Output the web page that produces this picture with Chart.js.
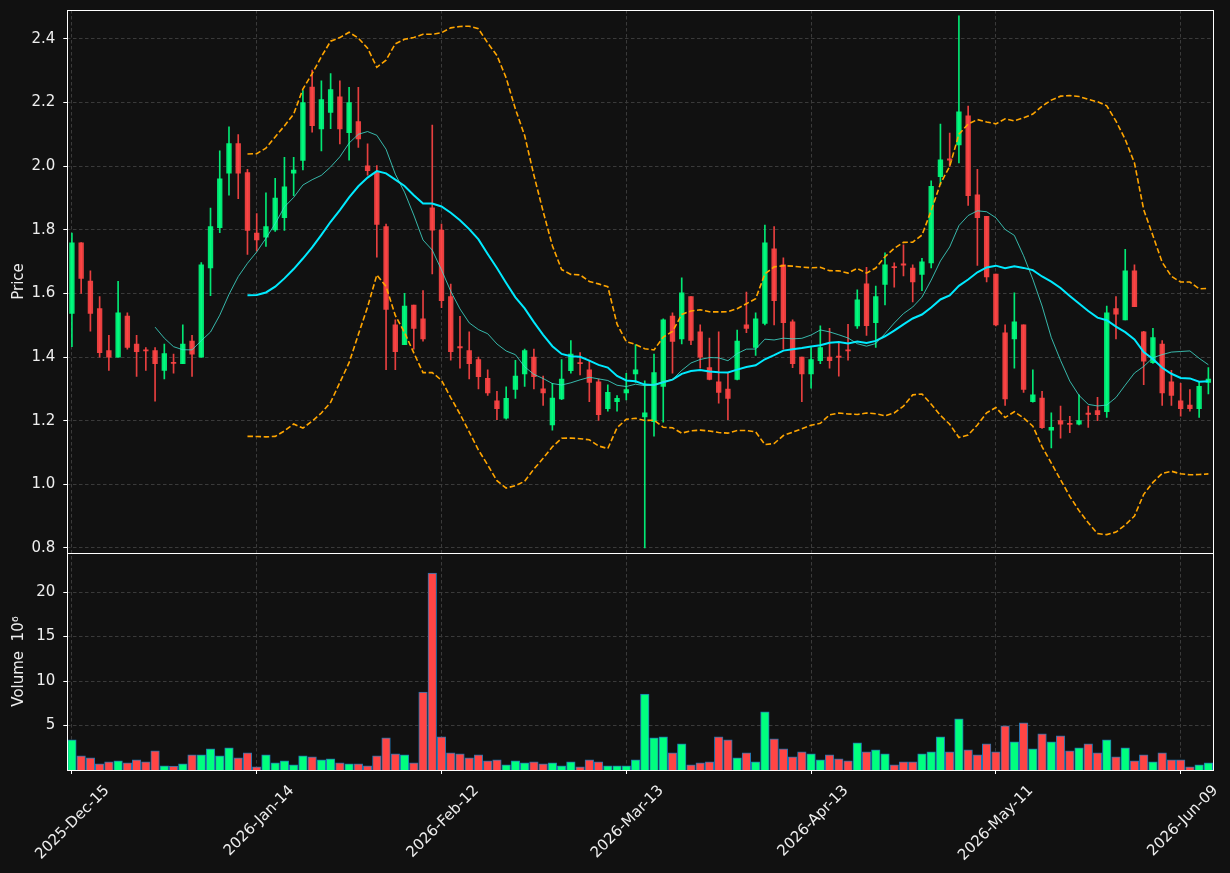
<!DOCTYPE html>
<html lang="en">
<head>
    <meta charset="UTF-8">
    <title>Candles with volume</title>
    <script src="https://cdn.jsdelivr.net/npm/chart.js"></script>
    <style>
        html, body { margin: 0; padding: 0; background: #111111; }
        canvas { display: block; }
    </style>
</head>
<body>
    <canvas id="priceChart" width="1230" height="873"></canvas>

    <script>
        // trading days (categories)
        const dates = [
            '2025-Dec-15','2025-Dec-16','2025-Dec-17','2025-Dec-18','2025-Dec-19','2025-Dec-22','2025-Dec-23','2025-Dec-24','2025-Dec-26','2025-Dec-29','2025-Dec-30','2025-Dec-31',
            '2026-Jan-02','2026-Jan-05','2026-Jan-06','2026-Jan-07','2026-Jan-08','2026-Jan-09','2026-Jan-12','2026-Jan-13','2026-Jan-14','2026-Jan-15','2026-Jan-16','2026-Jan-20','2026-Jan-21','2026-Jan-22','2026-Jan-23','2026-Jan-26','2026-Jan-27','2026-Jan-28','2026-Jan-29','2026-Jan-30',
            '2026-Feb-02','2026-Feb-03','2026-Feb-04','2026-Feb-05','2026-Feb-06','2026-Feb-09','2026-Feb-10','2026-Feb-11','2026-Feb-12','2026-Feb-13','2026-Feb-17','2026-Feb-18','2026-Feb-19','2026-Feb-20','2026-Feb-23','2026-Feb-24','2026-Feb-25','2026-Feb-26','2026-Feb-27',
            '2026-Mar-02','2026-Mar-03','2026-Mar-04','2026-Mar-05','2026-Mar-06','2026-Mar-09','2026-Mar-10','2026-Mar-11','2026-Mar-12','2026-Mar-13','2026-Mar-16','2026-Mar-17','2026-Mar-18','2026-Mar-19','2026-Mar-20','2026-Mar-23','2026-Mar-24','2026-Mar-25','2026-Mar-26','2026-Mar-27','2026-Mar-30','2026-Mar-31',
            '2026-Apr-01','2026-Apr-02','2026-Apr-06','2026-Apr-07','2026-Apr-08','2026-Apr-09','2026-Apr-10','2026-Apr-13','2026-Apr-14','2026-Apr-15','2026-Apr-16','2026-Apr-17','2026-Apr-20','2026-Apr-21','2026-Apr-22','2026-Apr-23','2026-Apr-24','2026-Apr-27','2026-Apr-28','2026-Apr-29','2026-Apr-30',
            '2026-May-01','2026-May-04','2026-May-05','2026-May-06','2026-May-07','2026-May-08','2026-May-11','2026-May-12','2026-May-13','2026-May-14','2026-May-15','2026-May-18','2026-May-19','2026-May-20','2026-May-21','2026-May-22','2026-May-26','2026-May-27','2026-May-28','2026-May-29',
            '2026-Jun-01','2026-Jun-02','2026-Jun-03','2026-Jun-04','2026-Jun-05','2026-Jun-08','2026-Jun-09','2026-Jun-10','2026-Jun-11','2026-Jun-12'
        ];

        // x tick labels shown on the axis
        const tickLabels = ['2025-Dec-15', '2026-Jan-14', '2026-Feb-12', '2026-Mar-13', '2026-Apr-13', '2026-May-11', '2026-Jun-09'];

        const open = [
            1.537, 1.759, 1.639, 1.552, 1.420, 1.400, 1.529, 1.441, 1.421, 1.420,
            1.358, 1.382, 1.379, 1.450, 1.400, 1.680, 1.807, 1.978, 2.071, 1.980,
            1.790, 1.777, 1.800, 1.838, 1.978, 2.018, 2.249, 2.117, 2.169, 2.218,
            2.105, 2.140, 2.001, 1.981, 1.810, 1.501, 1.439, 1.563, 1.520, 1.869,
            1.799, 1.590, 1.431, 1.420, 1.392, 1.333, 1.262, 1.208, 1.298, 1.347,
            1.400, 1.300, 1.187, 1.268, 1.357, 1.382, 1.360, 1.322, 1.238, 1.260,
            1.287, 1.347, 1.212, 1.197, 1.308, 1.529, 1.457, 1.590, 1.479, 1.367,
            1.322, 1.299, 1.330, 1.501, 1.430, 1.506, 1.740, 1.690, 1.511, 1.400,
            1.347, 1.389, 1.400, 1.401, 1.421, 1.498, 1.630, 1.508, 1.628, 1.682,
            1.691, 1.680, 1.660, 1.696, 1.967, 2.021, 2.067, 2.158, 1.910, 1.842,
            1.661, 1.476, 1.457, 1.501, 1.260, 1.271, 1.170, 1.200, 1.190, 1.189,
            1.222, 1.232, 1.228, 1.552, 1.517, 1.671, 1.479, 1.382, 1.441, 1.322,
            1.262, 1.249, 1.238, 1.320
        ];
        const high = [
            1.790, 1.760, 1.671, 1.590, 1.468, 1.638, 1.539, 1.468, 1.430, 1.430,
            1.441, 1.409, 1.501, 1.468, 1.697, 1.868, 2.048, 2.124, 2.099, 1.990,
            1.851, 1.916, 1.962, 2.028, 2.028, 2.238, 2.302, 2.268, 2.291, 2.268,
            2.248, 2.248, 2.070, 2.002, 1.818, 1.517, 1.600, 1.563, 1.609, 2.129,
            1.818, 1.629, 1.528, 1.479, 1.400, 1.360, 1.292, 1.306, 1.390, 1.425,
            1.425, 1.340, 1.317, 1.392, 1.452, 1.414, 1.387, 1.331, 1.313, 1.279,
            1.349, 1.439, 1.325, 1.409, 1.520, 1.539, 1.649, 1.590, 1.501, 1.460,
            1.479, 1.349, 1.485, 1.604, 1.539, 1.815, 1.810, 1.712, 1.517, 1.400,
            1.430, 1.498, 1.490, 1.447, 1.503, 1.611, 1.682, 1.623, 1.728, 1.696,
            1.753, 1.690, 1.710, 1.954, 2.132, 2.104, 2.473, 2.189, 1.990, 1.842,
            1.661, 1.501, 1.602, 1.501, 1.360, 1.292, 1.225, 1.246, 1.214, 1.281,
            1.246, 1.273, 1.560, 1.590, 1.739, 1.690, 1.481, 1.490, 1.452, 1.358,
            1.317, 1.298, 1.322, 1.367
        ];
        const low = [
            1.433, 1.600, 1.481, 1.400, 1.358, 1.400, 1.425, 1.339, 1.358, 1.261,
            1.331, 1.349, 1.379, 1.339, 1.400, 1.593, 1.791, 1.909, 1.898, 1.723,
            1.734, 1.748, 1.795, 1.798, 1.907, 1.988, 2.107, 2.048, 2.118, 2.070,
            2.019, 2.059, 1.972, 1.714, 1.360, 1.360, 1.439, 1.425, 1.450, 1.661,
            1.555, 1.390, 1.365, 1.331, 1.300, 1.279, 1.203, 1.205, 1.270, 1.308,
            1.300, 1.248, 1.170, 1.266, 1.349, 1.344, 1.260, 1.201, 1.230, 1.230,
            1.265, 1.320, 0.800, 1.151, 1.195, 1.349, 1.441, 1.439, 1.365, 1.328,
            1.255, 1.203, 1.328, 1.477, 1.405, 1.501, 1.501, 1.425, 1.367, 1.260,
            1.302, 1.379, 1.365, 1.340, 1.390, 1.490, 1.468, 1.430, 1.564, 1.620,
            1.655, 1.573, 1.609, 1.680, 1.942, 1.999, 2.010, 1.877, 1.688, 1.636,
            1.498, 1.248, 1.365, 1.289, 1.258, 1.176, 1.114, 1.145, 1.162, 1.187,
            1.179, 1.200, 1.210, 1.457, 1.517, 1.558, 1.313, 1.380, 1.248, 1.248,
            1.214, 1.230, 1.210, 1.284
        ];
        const close = [
            1.759, 1.647, 1.537, 1.414, 1.400, 1.539, 1.430, 1.417, 1.419, 1.379,
            1.411, 1.380, 1.441, 1.409, 1.690, 1.810, 1.960, 2.071, 1.978, 1.798,
            1.768, 1.810, 1.900, 1.935, 1.988, 2.200, 2.127, 2.209, 2.241, 2.117,
            2.200, 2.086, 1.986, 1.817, 1.550, 1.417, 1.560, 1.490, 1.457, 1.799,
            1.577, 1.417, 1.429, 1.379, 1.338, 1.287, 1.238, 1.270, 1.340, 1.420,
            1.338, 1.287, 1.271, 1.331, 1.409, 1.379, 1.320, 1.219, 1.289, 1.270,
            1.298, 1.360, 1.225, 1.351, 1.517, 1.449, 1.602, 1.452, 1.400, 1.330,
            1.289, 1.270, 1.450, 1.490, 1.520, 1.759, 1.577, 1.508, 1.379, 1.347,
            1.392, 1.430, 1.389, 1.399, 1.419, 1.580, 1.499, 1.590, 1.690, 1.681,
            1.689, 1.636, 1.699, 1.937, 2.020, 2.019, 2.171, 1.907, 1.838, 1.652,
            1.501, 1.268, 1.511, 1.298, 1.281, 1.178, 1.179, 1.189, 1.188, 1.200,
            1.220, 1.219, 1.539, 1.535, 1.671, 1.558, 1.387, 1.461, 1.287, 1.279,
            1.238, 1.238, 1.308, 1.331
        ];
        // volume in millions
        const volume = [
            3.39, 1.59, 1.37, 0.69, 0.91, 1.03, 0.80, 1.14, 0.91, 2.15,
            0.47, 0.43, 0.69, 1.70, 1.70, 2.38, 1.59, 2.49, 1.37, 1.93,
            0.36, 1.70, 0.80, 1.03, 0.58, 1.59, 1.48, 1.14, 1.25, 0.80,
            0.69, 0.69, 0.47, 1.59, 3.61, 1.81, 1.70, 0.80, 8.77, 22.13,
            3.72, 1.93, 1.81, 1.37, 1.70, 1.03, 1.14, 0.58, 1.03, 0.80,
            0.91, 0.69, 0.80, 0.47, 0.91, 0.36, 1.14, 0.91, 0.47, 0.47,
            0.47, 1.14, 8.55, 3.61, 3.72, 1.93, 2.94, 0.58, 0.80, 0.91,
            3.72, 3.39, 1.37, 1.93, 0.91, 6.53, 3.50, 2.38, 1.48, 2.04,
            1.81, 1.14, 1.70, 1.25, 1.03, 3.05, 2.04, 2.26, 1.81, 0.58,
            0.91, 0.91, 1.81, 2.04, 3.72, 2.04, 5.74, 2.26, 1.70, 2.94,
            2.04, 4.96, 3.16, 5.29, 2.38, 4.06, 3.16, 3.83, 2.15, 2.49,
            2.94, 1.93, 3.39, 1.48, 2.49, 1.03, 1.70, 0.91, 1.93, 1.14,
            1.14, 0.36, 0.58, 0.80
        ];

        // indicators built from the closes
        function sma(src, n) {
            return src.map((_, i) => {
                if (i < n - 1) return null;
                return src.slice(i - n + 1, i + 1).reduce((a, b) => a + b, 0) / n;
            });
        }
        function band(src, n, k) {
            const mid = sma(src, n);
            return src.map((_, i) => {
                if (mid[i] === null) return null;
                const win = src.slice(i - n + 1, i + 1);
                const sd = Math.sqrt(win.reduce((a, b) => a + (b - mid[i]) ** 2, 0) / n);
                return mid[i] + k * sd;
            });
        }
        const ma10 = sma(close, 10);
        const ma20 = sma(close, 20);
        const bbUpper = band(close, 20, 2);
        const bbLower = band(close, 20, -2);

        const UP = 'rgba(0,255,127,0.9)', DOWN = 'rgba(255,69,69,0.9)';
        const candleColors = close.map((c, i) => c >= open[i] ? UP : DOWN);
        const volColors = close.map((c, i) => c >= open[i] ? '#00ff7f' : '#ff4545');

        const GRID = '#3a3a3a';
        const TXT = '#eeeeee';
        const FONT = { family: 'DejaVu Sans', size: 15 };

        // no extra room for overhanging labels, keep the panels where they are
        function fixBox(w, h) {
            return s => {
                if (w) s.width = w;
                if (h) s.height = h;
                s.paddingLeft = s.paddingRight = s.paddingTop = s.paddingBottom = 0;
            };
        }

        // dark page + white frame round each panel
        const framePlugin = {
            id: 'frame',
            beforeDraw(chart) {
                const c = chart.ctx;
                c.save();
                c.fillStyle = '#111111';
                c.fillRect(0, 0, chart.width, chart.height);
                c.restore();
            },
            afterDraw(chart) {
                const c = chart.ctx, a = chart.chartArea;
                const px = v => Math.round(v) + 0.5;
                c.save();
                c.strokeStyle = '#ffffff';
                c.lineWidth = 1;
                ['y', 'yv'].forEach(id => {
                    const s = chart.scales[id];
                    const l = px(a.left), r = px(a.right), t = px(s.top), b = px(s.bottom);
                    c.strokeRect(l, t, r - l, b - t);
                });
                c.restore();
            }
        };

        const ctx = document.getElementById('priceChart').getContext('2d');
        const priceChart = new Chart(ctx, {
            type: 'bar',
            data: {
                labels: dates,
                datasets: [
                    {
                        type: 'line', label: 'MA10', data: ma10, yAxisID: 'y',
                        borderColor: 'rgba(64,224,208,0.8)', borderWidth: 1,
                        pointRadius: 0, tension: 0, order: 0
                    },
                    {
                        type: 'line', label: 'MA20', data: ma20, yAxisID: 'y',
                        borderColor: '#00eaff', borderWidth: 2,
                        pointRadius: 0, tension: 0, order: 0
                    },
                    {
                        type: 'line', label: 'BB upper', data: bbUpper, yAxisID: 'y',
                        borderColor: '#ffa500', borderWidth: 1.6, borderDash: [5.5, 2.6],
                        pointRadius: 0, tension: 0, order: 0
                    },
                    {
                        type: 'line', label: 'BB lower', data: bbLower, yAxisID: 'y',
                        borderColor: '#ffa500', borderWidth: 1.6, borderDash: [5.5, 2.6],
                        pointRadius: 0, tension: 0, order: 0
                    },
                    {
                        label: 'wick', data: low.map((l, i) => [l, high[i]]), yAxisID: 'y',
                        backgroundColor: candleColors, barThickness: 1, grouped: false, order: 3
                    },
                    {
                        label: 'body', data: open.map((o, i) => [o, close[i]]), yAxisID: 'y',
                        backgroundColor: candleColors, barThickness: 4.7, minBarLength: 1.2,
                        grouped: false, order: 2
                    },
                    {
                        label: 'volume', data: volume, yAxisID: 'yv',
                        backgroundColor: volColors, borderColor: '#1f77b4', borderWidth: 1,
                        barThickness: 8.6, grouped: false, order: 4
                    }
                ]
            },
            options: {
                responsive: false,
                animation: false,
                devicePixelRatio: 1,
                layout: { padding: { top: 10, right: 17, left: 0, bottom: 0 } },
                plugins: { legend: { display: false }, tooltip: { enabled: false } },
                scales: {
                    x: {
                        type: 'category',
                        offset: true,
                        grid: { offset: false, color: GRID, tickColor: '#ffffff', tickLength: 4, tickBorderDash: [] },
                        border: { display: false, dash: [3.5, 2.5] },
                        ticks: {
                            autoSkip: false, minRotation: 45, maxRotation: 45,
                            color: TXT, font: FONT, padding: 8, labelOffset: 35,
                            callback: (v, i) => i % 20 === 0 ? tickLabels[i / 20] : null
                        },
                        afterFit: fixBox(0, 103)
                    },
                    yv: {
                        type: 'linear', position: 'left', stack: 'panels', stackWeight: 217,
                        min: 0, max: 24.4,
                        grid: { color: GRID, tickColor: '#ffffff', tickLength: 4, tickBorderDash: [] },
                        border: { display: false, dash: [3.5, 2.5] },
                        ticks: {
                            stepSize: 5, includeBounds: false, color: TXT, font: FONT, padding: 8,
                            callback: v => v === 0 ? null : v
                        },
                        title: { display: true, text: 'Volume  10⁶', color: TXT, font: FONT, padding: { top: 10, bottom: 0 } },
                        afterFit: fixBox(67.3, 0)
                    },
                    y: {
                        type: 'linear', position: 'left', stack: 'panels', stackWeight: 543,
                        min: 0.784, max: 2.491,
                        grid: { color: GRID, tickColor: '#ffffff', tickLength: 4, tickBorderDash: [] },
                        border: { display: false, dash: [3.5, 2.5] },
                        ticks: {
                            stepSize: 0.2, includeBounds: false, color: TXT, font: FONT, padding: 8,
                            callback: v => v.toFixed(1)
                        },
                        title: { display: true, text: 'Price', color: TXT, font: FONT, padding: { top: 10, bottom: 0 } },
                        afterFit: fixBox(67.3, 0)
                    }
                }
            },
            plugins: [framePlugin]
        });
    </script>
</body>
</html>
